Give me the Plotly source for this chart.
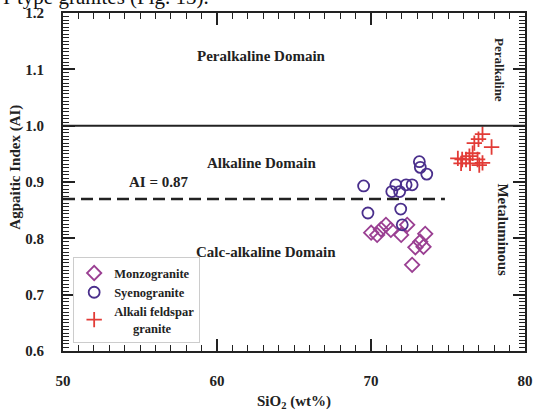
import plotly.graph_objects as go

# --- data ---
monzo_sio2 = [70.01, 70.40, 70.65, 70.97, 71.29, 71.96, 72.35, 73.52, 73.20, 72.88, 73.41, 72.67]
monzo_ai   = [0.810, 0.806, 0.816, 0.824, 0.815, 0.806, 0.824, 0.808, 0.794, 0.784, 0.785, 0.753]

syeno_sio2 = [69.52, 69.80, 71.61, 71.35, 71.86, 72.28, 72.67, 71.93, 73.14, 73.20, 73.62, 72.03]
syeno_ai   = [0.893, 0.845, 0.895, 0.883, 0.883, 0.895, 0.895, 0.852, 0.936, 0.926, 0.914, 0.824]

afg_sio2 = [77.24, 76.98, 76.71, 77.83, 76.60, 76.39, 75.64, 75.92, 76.17, 76.92, 77.24, 75.85, 76.43, 77.03]
afg_ai   = [0.985, 0.976, 0.969, 0.962, 0.951, 0.946, 0.942, 0.940, 0.940, 0.940, 0.934, 0.933, 0.933, 0.930]

x_ticks = [50, 60, 70, 80]
y_ticks = [0.6, 0.7, 0.8, 0.9, 1.0, 1.1, 1.2]
ai_boundary = 0.87
peralk_boundary = 1.0

SERIF = "Liberation Serif"

fig = go.Figure()
fig.add_trace(go.Scatter(
    x=monzo_sio2, y=monzo_ai, mode="markers", name="<b>Monzogranite</b>",
    marker=dict(symbol="diamond-open", size=11, color="#9a3f92", line=dict(width=1.8))))
fig.add_trace(go.Scatter(
    x=syeno_sio2, y=syeno_ai, mode="markers", name="<b>Syenogranite</b>",
    marker=dict(symbol="circle-open", size=11, color="#4a2f8c", line=dict(width=1.8))))
fig.add_trace(go.Scatter(
    x=afg_sio2, y=afg_ai, mode="markers", name="<b>Alkali feldspar</b><br><b>      granite</b>",
    marker=dict(symbol="cross-thin-open", size=11, color="#e23b36", line=dict(width=1.8))))

# boundary lines
fig.add_shape(type="line", x0=50, x1=80, y0=peralk_boundary, y1=peralk_boundary,
              xref="x", yref="y", line=dict(color="#222", width=2))
fig.add_shape(type="line", x0=50, x1=74.8, y0=ai_boundary, y1=ai_boundary,
              xref="x", yref="y", line=dict(color="#222", width=2.5, dash="12px,6px"))

def ann(text, x, y, size=15, angle=0, **kw):
    fig.add_annotation(text=text, x=x, y=y, xref="x", yref="y", showarrow=False,
                       textangle=angle, font=dict(family=SERIF, size=size, color="#222"), **kw)

ann("<b>Peralkaline Domain</b>", 62.9, 1.124)
ann("<b>Alkaline Domain</b>", 62.9, 0.934)
ann("<b>AI = 0.87</b>", 56.2, 0.900)
ann("<b>Calc-alkaline Domain</b>", 63.2, 0.776)
ann("<b>Peralkaline</b>", 78.3, 1.099, size=13, angle=90)
ann("<b>Metaluminous</b>", 78.6, 0.815, size=15, angle=90)

# axis titles
fig.add_annotation(text="<b>Agpaitic Index (AI)</b>", xref="paper", yref="paper",
                   x=-0.102, y=0.545, xanchor="center", yanchor="middle",
                   showarrow=False, textangle=-90,
                   font=dict(family=SERIF, size=15, color="#222"))
fig.add_annotation(text="<b>SiO<sub>2</sub> (wt%)</b>", xref="paper", yref="paper",
                   x=0.5, y=-0.152, xanchor="center", yanchor="middle", showarrow=False,
                   font=dict(family=SERIF, size=15, color="#222"))

# clipped text from the surrounding page
fig.add_annotation(text="I-type granites (Fig. 13).", xref="paper", yref="paper",
                   x=-0.134, y=1.005, xanchor="left", yanchor="bottom", showarrow=False,
                   font=dict(family=SERIF, size=21, color="#111"))

fig.update_xaxes(range=[50, 80], tickvals=x_ticks, ticktext=[f"<b>{v}</b>" for v in x_ticks],
                 ticks="inside", ticklen=12, tickwidth=1.5, tickcolor="#222",
                 minor=dict(dtick=1, tick0=50, ticks="inside", ticklen=6, tickwidth=1.2, tickcolor="#222"),
                 showline=True, linecolor="#222", linewidth=2, mirror="ticks",
                 showgrid=False, zeroline=False, ticklabelstandoff=15,
                 ticklabeloverflow="allow",
                 tickfont=dict(family=SERIF, size=15, color="#222"))
fig.update_yaxes(range=[0.6, 1.2], tickvals=y_ticks, ticktext=[f"<b>{v:.1f}</b>" for v in y_ticks],
                 ticks="inside", ticklen=12, tickwidth=1.5, tickcolor="#222",
                 minor=dict(dtick=0.00625, tick0=0.6, ticks="inside", ticklen=6, tickwidth=1, tickcolor="#222"),
                 showline=True, linecolor="#222", linewidth=2, mirror="ticks",
                 showgrid=False, zeroline=False, ticklabelstandoff=14,
                 tickfont=dict(family=SERIF, size=15, color="#222"))

fig.update_layout(
    width=534, height=410, margin=dict(l=63, r=1, t=13, b=59),
    paper_bgcolor="white", plot_bgcolor="white",
    showlegend=True,
    legend=dict(x=0.022, y=0.277, xanchor="left", yanchor="top",
                bgcolor="white", bordercolor="#cccccc", borderwidth=1,
                font=dict(family=SERIF, size=12.5, color="#222"),
                itemwidth=30, tracegroupgap=0, traceorder="normal"),
)

fig.write_html("out.html")
